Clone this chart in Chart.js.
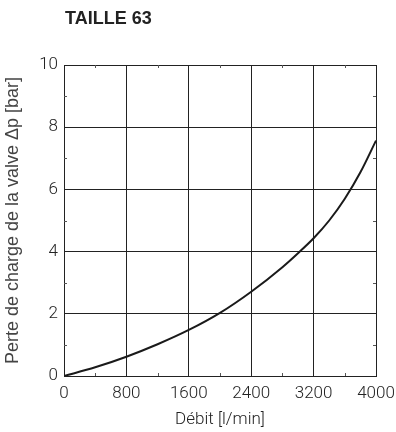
<!DOCTYPE html>
<html>
<head>
<meta charset="utf-8">
<script src="https://cdn.jsdelivr.net/npm/chart.js@4/dist/chart.umd.min.js"></script>
<style>
  html, body { margin: 0; padding: 0; background: #fff; }
  #wrap { width: 396px; height: 432px; position: relative; }
</style>
</head>
<body>
<div id="wrap"><canvas id="c" width="396" height="432"></canvas></div>
<script>
// Pressure drop curve, size 63 valve
const chartTitle = "TAILLE 63";
const flowRates = [0, 400, 800, 1200, 1600, 2000, 2400, 2800, 3000, 3200, 3400, 3600, 3800, 4000];
const pressureDrop = [0, 0.28, 0.62, 1.02, 1.48, 2.03, 2.71, 3.5, 3.95, 4.43, 5.0, 5.7, 6.55, 7.57];
const xTicks = [0, 800, 1600, 2400, 3200, 4000];
const yTicks = [0, 2, 4, 6, 8, 10];
const xTitle = "Débit [l/min]";
const yTitle = "Perte de charge de la valve Δp [bar]";

const tickFont = { family: "Roboto", size: 17, weight: "300" };

// Title drawn at the left edge of the plot area, plus small inner half-step ticks
const framePlugin = {
  id: "frame",
  afterDraw(chart) {
    const { ctx, chartArea: a, scales } = chart;
    ctx.save();
    ctx.fillStyle = "#222";
    ctx.font = "bold 18px 'Liberation Sans', Arial, sans-serif";
    ctx.textBaseline = "middle";
    ctx.textAlign = "left";
    ctx.fillText(chartTitle, a.left + 1, 19);

    ctx.strokeStyle = "#555";
    ctx.lineWidth = 1;
    const len = 3;
    ctx.beginPath();
    for (let i = 0; i < xTicks.length - 1; i++) {
      const v = (xTicks[i] + xTicks[i + 1]) / 2;
      const px = Math.round(scales.x.getPixelForValue(v)) + 0.5;
      ctx.moveTo(px, a.top); ctx.lineTo(px, a.top + len);
      ctx.moveTo(px, a.bottom); ctx.lineTo(px, a.bottom - len);
    }
    for (let i = 0; i < yTicks.length - 1; i++) {
      const v = (yTicks[i] + yTicks[i + 1]) / 2;
      const py = Math.round(scales.y.getPixelForValue(v)) + 0.5;
      ctx.moveTo(a.left, py); ctx.lineTo(a.left + len, py);
      ctx.moveTo(a.right, py); ctx.lineTo(a.right - len, py);
    }
    ctx.stroke();
    ctx.restore();
  }
};

new Chart(document.getElementById("c"), {
  type: "line",
  data: {
    datasets: [{
      data: flowRates.map((q, i) => ({ x: q, y: pressureDrop[i] })),
      borderColor: "#1a1a1a",
      borderWidth: 2,
      pointRadius: 0,
      fill: false,
      cubicInterpolationMode: "monotone"
    }]
  },
  options: {
    responsive: false,
    animation: false,
    devicePixelRatio: 1,
    layout: { padding: { top: 65, right: 20, bottom: 0, left: 0 } },
    plugins: { legend: { display: false }, tooltip: { enabled: false } },
    scales: {
      x: {
        type: "linear",
        min: 0, max: 4000,
        afterBuildTicks(s) { s.ticks = xTicks.map(v => ({ value: v })); },
        afterFit(s) { s.height = 56; s.paddingRight = 0; },
        grid: { color: "#222", lineWidth: 1, drawTicks: false },
        border: { color: "#222", width: 1 },
        ticks: { font: tickFont, color: "#222", padding: 8, maxRotation: 0, autoSkip: false, callback: v => String(v) },
        title: { display: true, text: xTitle, font: { family: "Roboto", size: 17, weight: "300" }, color: "#222", padding: { top: 0, bottom: 2 } }
      },
      y: {
        type: "linear",
        min: 0, max: 10,
        afterBuildTicks(s) { s.ticks = yTicks.map(v => ({ value: v })); },
        afterFit(s) { s.width = 64; },
        grid: { color: "#222", lineWidth: 1, drawTicks: false },
        border: { color: "#222", width: 1 },
        ticks: { font: tickFont, color: "#222", padding: 6, autoSkip: false, callback: v => String(v) },
        title: { display: true, text: yTitle, font: { family: "'Liberation Sans', Arial, sans-serif", size: 18 }, color: "#444", padding: { top: 2, bottom: 0 } }
      }
    }
  },
  plugins: [framePlugin]
});
</script>
</body>
</html>
